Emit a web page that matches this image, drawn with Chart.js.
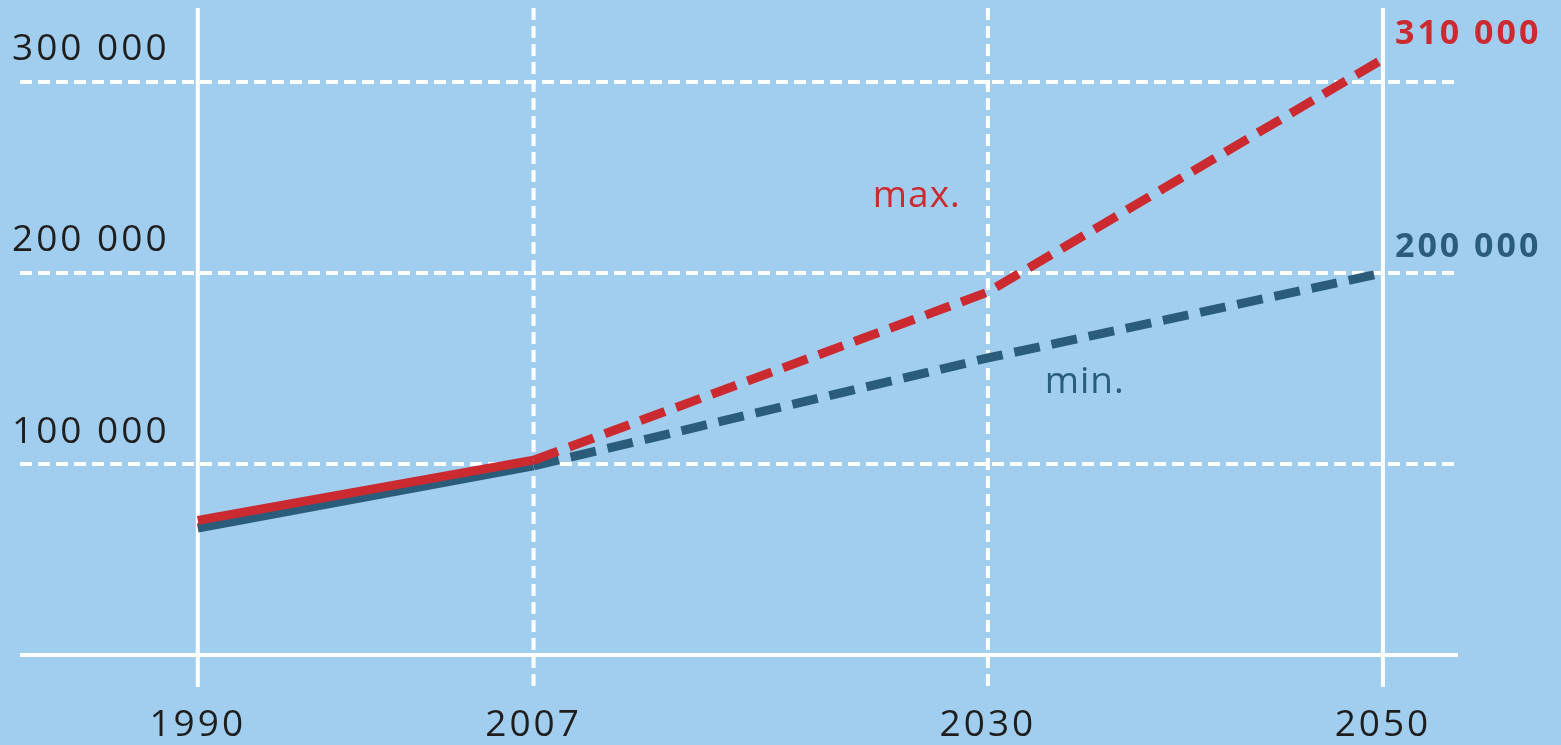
<!DOCTYPE html>
<html>
<head>
<meta charset="utf-8">
<script src="https://cdn.jsdelivr.net/npm/chart.js@4"></script>
<style>
  html, body { margin: 0; padding: 0; background: #a1ceee; }
  #wrap { width: 1561px; height: 745px; position: relative; }
</style>
</head>
<body>
<div id="wrap"><canvas id="graf"></canvas></div>
<script>
// datos
const years = [1990, 2007, 2030, 2050];
const maxValues = [70500, 102000, 190000, 312000];
const minValues = [66500, 99000, 155500, 200000];
const yGridValues = [0, 100000, 200000, 300000];
const yTickLabels = ['', '100 000', '200 000', '300 000'];
const xSolid = [true, false, false, true];
const endLabels = ['310 000', '200 000'];

const RED = '#cc2a31';
const BLUE = '#2b5d7b';
const TXT = '#1e1e1e';

const fondoYRejilla = {
  id: 'fondoYRejilla',
  beforeDatasetsDraw(chart) {
    const { ctx, chartArea: a, scales: { x, y } } = chart;
    ctx.save();
    ctx.strokeStyle = '#ffffff';
    ctx.lineWidth = 4;
    // lineas horizontales
    yGridValues.forEach(v => {
      const py = y.getPixelForValue(v);
      ctx.setLineDash(v === 0 ? [] : [12, 6]);
      ctx.beginPath();
      ctx.moveTo(a.left, py);
      ctx.lineTo(a.right, py);
      ctx.stroke();
    });
    // lineas verticales
    years.forEach((v, i) => {
      const px = x.getPixelForValue(v);
      ctx.setLineDash(xSolid[i] ? [] : [12, 6]);
      ctx.beginPath();
      ctx.moveTo(px, a.top);
      ctx.lineTo(px, a.bottom + 32);
      ctx.stroke();
    });
    ctx.setLineDash([]);
    // etiquetas eje y
    ctx.fillStyle = TXT;
    ctx.font = '37px "Open Sans"';
    ctx.letterSpacing = '3px';
    ctx.textAlign = 'left';
    ctx.textBaseline = 'middle';
    yGridValues.forEach((v, i) => {
      if (!yTickLabels[i]) return;
      ctx.fillText(yTickLabels[i], 12, y.getPixelForValue(v) - 32);
    });
    // etiquetas eje x
    ctx.textAlign = 'center';
    years.forEach(v => {
      ctx.fillText(String(v), x.getPixelForValue(v), a.bottom + 70);
    });
    ctx.restore();
  },
  afterDatasetsDraw(chart) {
    const { ctx, scales: { x, y } } = chart;
    const last = years.length - 1;
    const px = x.getPixelForValue(years[last]) + 12;
    ctx.save();
    ctx.textAlign = 'left';
    ctx.textBaseline = 'middle';
    ctx.letterSpacing = '3px';
    ctx.font = 'bold 34px "Open Sans"';
    ctx.fillStyle = RED;
    ctx.fillText(endLabels[0], px, y.getPixelForValue(maxValues[last]) - 25);
    ctx.fillStyle = BLUE;
    ctx.fillText(endLabels[1], px, y.getPixelForValue(minValues[last]) - 26);
    // max. / min.
    ctx.letterSpacing = '1px';
    ctx.font = '37px "Open Sans"';
    ctx.textAlign = 'center';
    ctx.fillStyle = RED;
    ctx.fillText('max.', x.getPixelForValue(2026.4), y.getPixelForValue(240000));
    ctx.fillStyle = BLUE;
    ctx.fillText('min.', x.getPixelForValue(2034.9), y.getPixelForValue(142500));
    ctx.restore();
  }
};

const dashDesde2007 = c => (c.p0.parsed.x >= 2007 ? [26, 12] : undefined);

new Chart(document.getElementById('graf'), {
  type: 'line',
  data: {
    datasets: [
      {
        label: 'max.',
        data: years.map((yr, i) => ({ x: yr, y: maxValues[i] })),
        borderColor: RED,
        borderWidth: 9,
        borderCapStyle: 'butt',
        pointRadius: 0,
        tension: 0,
        segment: { borderDash: dashDesde2007 }
      },
      {
        label: 'min.',
        data: years.map((yr, i) => ({ x: yr, y: minValues[i] })),
        borderColor: BLUE,
        borderWidth: 9,
        borderCapStyle: 'butt',
        pointRadius: 0,
        tension: 0,
        segment: { borderDash: dashDesde2007 }
      }
    ]
  },
  options: {
    responsive: true,
    maintainAspectRatio: false,
    animation: false,
    layout: { padding: { left: 20, right: 103, top: 8, bottom: 90 } },
    plugins: { legend: { display: false }, tooltip: { enabled: false } },
    scales: {
      x: { type: 'linear', min: 1981, max: 2053.8, display: false },
      y: { type: 'linear', min: 0, max: 338700, display: false }
    }
  },
  plugins: [fondoYRejilla]
});
</script>
</body>
</html>
